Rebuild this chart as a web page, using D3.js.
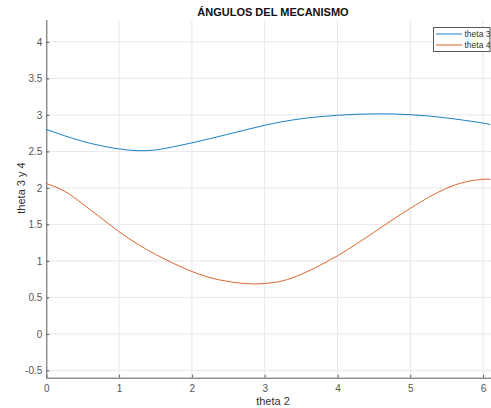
<!DOCTYPE html>
<html>
<head>
<meta charset="utf-8">
<script src="https://cdn.jsdelivr.net/npm/d3@7"></script>
<style>
  body { margin: 0; background: #fff; }
  svg { display: block; font-family: "Liberation Sans", Arial, sans-serif; }
</style>
</head>
<body>
<div id="chart"></div>
<script>
// values
const theta2 = [0, 0.25, 0.5, 0.75, 1.0, 1.25, 1.5, 1.75, 2.0, 2.25, 2.5, 2.75, 3.0,
                3.25, 3.5, 3.75, 4.0, 4.25, 4.5, 4.75, 5.0, 5.25, 5.5, 5.75, 6.0, 6.1];
const theta3 = [2.80, 2.715, 2.638, 2.578, 2.534, 2.510, 2.520, 2.564, 2.617, 2.675, 2.736, 2.798, 2.858,
                2.908, 2.947, 2.975, 2.995, 3.008, 3.014, 3.013, 3.003, 2.985, 2.958, 2.925, 2.888, 2.865];
const theta4 = [2.06, 1.955, 1.78, 1.59, 1.40, 1.232, 1.09, 0.965, 0.855, 0.77, 0.718, 0.688, 0.69,
                0.728, 0.815, 0.935, 1.07, 1.225, 1.39, 1.56, 1.72, 1.87, 1.995, 2.08, 2.118, 2.115];
const xTicks = [0, 1, 2, 3, 4, 5, 6];
const yTicks = [-0.5, 0, 0.5, 1, 1.5, 2, 2.5, 3, 3.5, 4];
const seriesNames = ["theta 3", "theta 4"];
const seriesColors = ["#0072BD", "#D95319"];

const W = 491, H = 408;
const svg = d3.select("#chart").append("svg")
    .attr("width", W).attr("height", H);

// plot box (right side runs past the picture edge, as in the reference)
const plotLeft = 46.3, plotBottom = 377.7, plotTop = 20;
const x = d3.scaleLinear().domain([0, 2 * Math.PI]).range([plotLeft, plotLeft + 2 * Math.PI * 72.8]);
const y = d3.scaleLinear().domain([-0.6, 4.3]).range([plotBottom, plotTop]);

// grid
const grid = svg.append("g").attr("stroke", "#e8e8e8").attr("stroke-width", 1);
grid.selectAll(".vg").data(xTicks.filter(d => d > 0)).join("line")
    .attr("x1", d => x(d)).attr("x2", d => x(d))
    .attr("y1", plotTop).attr("y2", plotBottom);
grid.selectAll(".hg").data(yTicks).join("line")
    .attr("x1", plotLeft).attr("x2", W)
    .attr("y1", d => y(d)).attr("y2", d => y(d));

// axes, ticks pointing inward like MATLAB
const fmt = d => String(d);
const xAxis = svg.append("g")
    .attr("transform", `translate(0,${plotBottom})`)
    .call(d3.axisBottom(x).tickValues(xTicks).tickFormat(fmt)
        .tickSizeInner(-3).tickSizeOuter(0).tickPadding(7));
const yAxis = svg.append("g")
    .attr("transform", `translate(${plotLeft},0)`)
    .call(d3.axisLeft(y).tickValues(yTicks).tickFormat(fmt)
        .tickSizeInner(-3).tickSizeOuter(0).tickPadding(4));

[xAxis, yAxis].forEach(g => {
    g.select(".domain").attr("stroke", "#5a5a5a");
    g.selectAll(".tick line").attr("stroke", "#5a5a5a");
    g.selectAll(".tick text").attr("fill", "#555")
        .style("font-family", "'Liberation Sans', Arial, sans-serif")
        .style("font-size", "10px");
});
xAxis.select(".domain").attr("d", `M${plotLeft},0.5H${W}`);
yAxis.select(".domain").attr("d", `M0.5,${plotTop}V${plotBottom}`);

// curves
const line = d3.line()
    .x(d => x(d[0]))
    .y(d => y(d[1]))
    .curve(d3.curveNatural);

[theta3, theta4].forEach((vals, i) => {
    svg.append("path")
        .datum(theta2.map((t, k) => [t, vals[k]]))
        .attr("fill", "none")
        .attr("stroke", seriesColors[i])
        .attr("stroke-width", 0.9)
        .attr("d", line);
});

// title and labels
svg.append("text")
    .attr("x", 273).attr("y", 15.5)
    .attr("text-anchor", "middle")
    .attr("font-size", "11px").attr("font-weight", "bold")
    .attr("fill", "#111")
    .text("ÁNGULOS DEL MECANISMO");

svg.append("text")
    .attr("x", 273).attr("y", 405)
    .attr("text-anchor", "middle")
    .attr("font-size", "11px").attr("fill", "#333")
    .text("theta 2");

svg.append("text")
    .attr("transform", "translate(25,188) rotate(-90)")
    .attr("text-anchor", "middle")
    .attr("font-size", "11px").attr("fill", "#333")
    .text("theta 3 y 4");

// legend
const legend = svg.append("g");
legend.append("rect")
    .attr("x", 433.5).attr("y", 27.5).attr("width", 56.5).attr("height", 24)
    .attr("fill", "#fff").attr("stroke", "#5a5a5a").attr("stroke-width", 1);
seriesNames.forEach((name, i) => {
    const ly = 34 + i * 11;
    legend.append("line")
        .attr("x1", 436).attr("x2", 462)
        .attr("y1", ly).attr("y2", ly)
        .attr("stroke", seriesColors[i]).attr("stroke-width", 0.9);
    legend.append("text")
        .attr("x", 464.5).attr("y", ly + 3)
        .attr("font-size", "8.5px").attr("fill", "#333")
        .text(name);
});
</script>
</body>
</html>
